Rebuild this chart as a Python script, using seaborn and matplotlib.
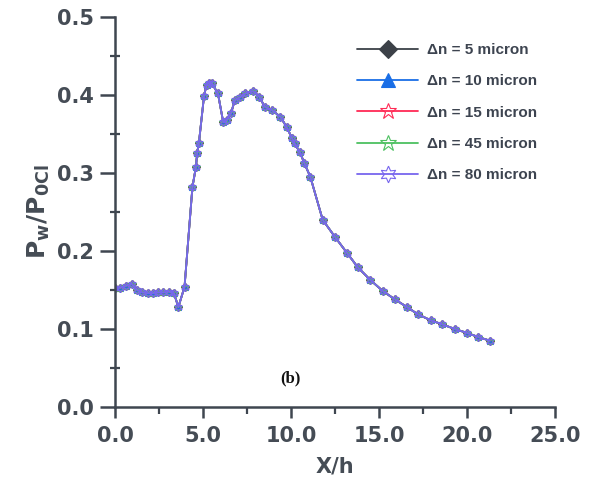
import matplotlib
matplotlib.use("Agg")
import matplotlib.pyplot as plt
import seaborn as sns
import numpy as np
from matplotlib.ticker import MultipleLocator, FormatStrFormatter

# ---- data ----
x_h = [0.0, 0.3, 0.6, 0.95, 1.25, 1.55, 1.85, 2.15, 2.45, 2.75, 3.05, 3.35, 3.6, 3.95,
       4.4, 4.6, 4.67, 4.77, 5.06, 5.2, 5.35, 5.5, 5.85, 6.15, 6.35, 6.6, 6.8, 7.1, 7.4,
       7.85, 8.2, 8.5, 8.9, 9.4, 9.75, 10.05, 10.2, 10.5, 10.75, 11.1, 11.8, 12.5, 13.2,
       13.8, 14.5, 15.2, 15.9, 16.6, 17.2, 17.95, 18.6, 19.3, 20.0, 20.6, 21.3]
p_ratio = [0.152, 0.153, 0.155, 0.158, 0.150, 0.147, 0.146, 0.146, 0.147, 0.147, 0.148,
           0.146, 0.128, 0.154, 0.282, 0.308, 0.326, 0.339, 0.399, 0.413, 0.416, 0.415,
           0.402, 0.365, 0.368, 0.377, 0.393, 0.397, 0.402, 0.405, 0.398, 0.385, 0.381,
           0.372, 0.359, 0.345, 0.338, 0.327, 0.313, 0.295, 0.240, 0.218, 0.197, 0.179,
           0.163, 0.149, 0.138, 0.128, 0.119, 0.111, 0.106, 0.100, 0.095, 0.090, 0.085]
series_labels = ["Δn = 5 micron", "Δn = 10 micron", "Δn = 15 micron",
                 "Δn = 45 micron", "Δn = 80 micron"]
x_ticks = [0.0, 5.0, 10.0, 15.0, 20.0, 25.0]
y_ticks = [0.0, 0.1, 0.2, 0.3, 0.4, 0.5]

colors = ["#3c4148", "#1a6ee6", "#ff2a55", "#4cc060", "#7766ee"]
markers = ["D", "^", "*", "*", (6, 1, 0)]
filled = [True, True, False, False, False]
msizes = [4.5, 5, 6, 6, 6]

sns.set_theme(style="white")
plt.rcParams["font.family"] = ["DejaVu Sans"]
plt.rcParams["mathtext.fontset"] = "dejavusans"

fig = plt.figure(figsize=(5.98, 4.79), dpi=100)
ax = fig.add_axes([0.1923, 0.1503, 0.7358, 0.8142])

for lab, c, m, f, ms in zip(series_labels, colors, markers, filled, msizes):
    sns.lineplot(x=x_h, y=p_ratio, ax=ax, color=c, marker=m, label=lab,
                 markersize=ms, linewidth=1.3,
                 markerfacecolor=(c if f else "none"), markeredgecolor=c,
                 markeredgewidth=0.8, sort=False)

axc = "#3f4650"
ax.set_xlim(0, 25)
ax.set_ylim(0, 0.5)
ax.set_xticks(x_ticks)
ax.set_yticks(y_ticks)
ax.xaxis.set_major_formatter(FormatStrFormatter("%.1f"))
ax.yaxis.set_major_formatter(FormatStrFormatter("%.1f"))
ax.xaxis.set_minor_locator(MultipleLocator(2.5))
ax.yaxis.set_minor_locator(MultipleLocator(0.05))
for s in ["top", "right"]:
    ax.spines[s].set_visible(False)
for s in ["left", "bottom"]:
    ax.spines[s].set_color(axc)
    ax.spines[s].set_linewidth(1.8)
ax.tick_params(axis="x", which="major", direction="out", length=8, width=1.8, color=axc,
               labelsize=15, labelcolor="#454c55", pad=6, bottom=True)
ax.tick_params(axis="x", which="minor", direction="out", length=5, width=1.6, color=axc, bottom=True)
ax.tick_params(axis="y", which="major", direction="out", length=11, width=1.8, color=axc,
               labelsize=15, labelcolor="#454c55", pad=4, left=True)
ax.tick_params(axis="y", which="minor", direction="inout", length=7, width=1.6, color=axc, left=True)
for t in ax.get_xticklabels() + ax.get_yticklabels():
    t.set_fontweight("bold")

ax.set_xlabel("X/h", fontsize=15, fontweight="bold", color="#454c55", labelpad=7)
ax.set_ylabel(r"$\mathbf{P_{w}/P_{0Cl}}$", fontsize=18, color="#454c55", labelpad=4)

ax.text(9.95, 0.037, "(b)", fontsize=12, fontweight="bold", family="Liberation Serif",
        ha="center", va="center", color="#111111")

leg = ax.legend(loc="upper left", bbox_to_anchor=(0.519, 0.968), frameon=False,
                handlelength=4.0, handletextpad=0.6, labelspacing=1.13,
                markerscale=2.0,
                prop={"family": "Liberation Sans", "weight": "bold", "size": 11})
for t in leg.get_texts():
    t.set_color("#3d4450")

fig.savefig("out.png", dpi=100)
